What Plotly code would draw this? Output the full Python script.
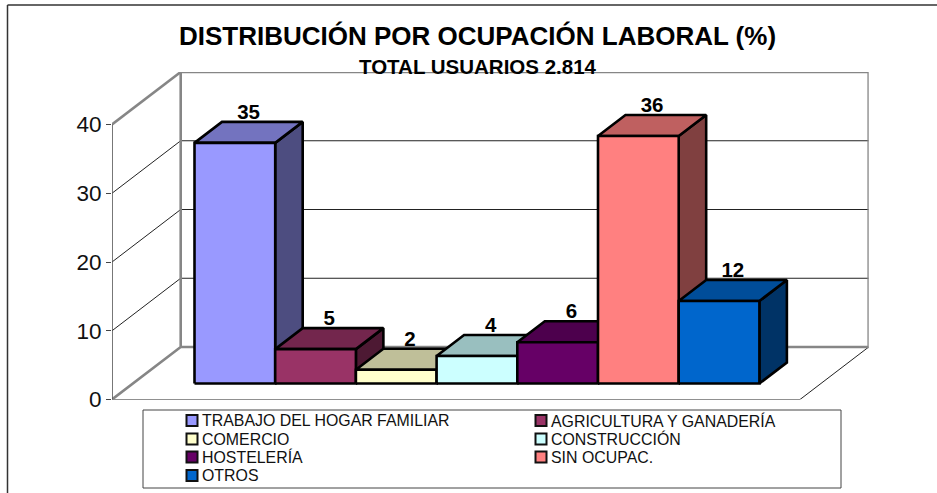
import plotly.graph_objects as go

CATEGORIES = ["TRABAJO DEL HOGAR FAMILIAR", "AGRICULTURA Y GANADERÍA", "COMERCIO",
              "CONSTRUCCIÓN", "HOSTELERÍA", "SIN OCUPAC.", "OTROS"]
VALUES = [35, 5, 2, 4, 6, 36, 12]
FRONT_COLORS = ["#9999FF", "#993366", "#FFFFCC", "#CCFFFF", "#660066", "#FF8080", "#0066CC"]
TOP_COLORS = ["#7373BF", "#73264D", "#BFBF99", "#99BFBF", "#4D004D", "#BF6060", "#004D99"]
SIDE_COLORS = ["#4D4D80", "#4D1933", "#808066", "#668080", "#330033", "#804040", "#003366"]
Y_TICKS = [0, 10, 20, 30, 40]
TITLE = "DISTRIBUCIÓN POR OCUPACIÓN LABORAL (%)"
SUBTITLE = "TOTAL USUARIOS 2.814"

W, H = 937, 493
FONT = "Liberation Sans, Arial, sans-serif"

# Oblique projection of the 3D box, in axis units
PX_PER_CAT = 80.7
PX_PER_VAL = 6.875
AXIS_LEFT, AXIS_RIGHT, AXIS_BOTTOM, AXIS_TOP = 112, 868.7, 399.5, 72
DX = 68.7 / PX_PER_CAT      # x shift of the full depth
DY = 52.5 / PX_PER_VAL      # y shift of the full depth
FLOOR_W = (AXIS_RIGHT - AXIS_LEFT) / PX_PER_CAT - DX
MARGIN = (FLOOR_W - len(VALUES)) / 2
D0, D1 = 0.305, 0.705       # bar depth span
YMAX = max(Y_TICKS)
LABEL_DROP = 0.3            # labels sit slightly closer to the bar tops


def proj(x, y, d):
    return x + d * DX, y + d * DY


def poly(points, fill, line="#000000", width=2.6):
    xs, ys = zip(*points)
    return go.Scatter(x=list(xs) + [xs[0]], y=list(ys) + [ys[0]], mode="lines", fill="toself",
                      fillcolor=fill, line=dict(color=line, width=width, shape="linear"),
                      hoverinfo="skip", showlegend=False)


def line(points, color, width):
    xs, ys = zip(*points)
    return go.Scatter(x=list(xs), y=list(ys), mode="lines", line=dict(color=color, width=width),
                      hoverinfo="skip", showlegend=False)


fig = go.Figure()
GREY = "#868686"
DARK = "#222222"
# Floor and walls
fig.add_trace(poly([proj(0, 0, 0), proj(FLOOR_W, 0, 0), proj(FLOOR_W, 0, 1), proj(0, 0, 1)], "#FFFFFF", line="rgba(0,0,0,0)", width=0))
for t in Y_TICKS[1:-1]:
    fig.add_trace(line([proj(0, t, 0), proj(0, t, 1), proj(FLOOR_W, t, 1)], DARK, 1))
fig.add_trace(line([proj(FLOOR_W, 0, 0), proj(FLOOR_W, 0, 1)], DARK, 1))
fig.add_trace(line([proj(0, 0, 0), proj(FLOOR_W, 0, 0)], DARK, 1))
fig.add_trace(line([proj(0, 0, 0), proj(0, 0, 1), proj(FLOOR_W, 0, 1), proj(FLOOR_W, YMAX, 1),
                    proj(0, YMAX, 1), proj(0, 0, 1)], GREY, 2.6))
fig.add_trace(line([proj(0, YMAX, 0), proj(0, YMAX, 1)], GREY, 2.6))
fig.add_trace(line([proj(0, 0, 0), proj(0, YMAX, 0)], "#555555", 1.6))

# Bars, painted from left to right
for i, v in enumerate(VALUES):
    x0, x1 = MARGIN + i, MARGIN + i + 1
    fig.add_trace(poly([proj(x1, 0, D0), proj(x1, 0, D1), proj(x1, v, D1), proj(x1, v, D0)], SIDE_COLORS[i]))
    fig.add_trace(poly([proj(x0, v, D0), proj(x1, v, D0), proj(x1, v, D1), proj(x0, v, D1)], TOP_COLORS[i]))
    fig.add_trace(poly([proj(x0, 0, D0), proj(x1, 0, D0), proj(x1, v, D0), proj(x0, v, D0)], FRONT_COLORS[i]))

# Data labels
lx = [proj(MARGIN + i + 0.5, v, (D0 + D1) / 2)[0] for i, v in enumerate(VALUES)]
ly = [proj(MARGIN + i + 0.5, v, D1)[1] - LABEL_DROP for i, v in enumerate(VALUES)]
fig.add_trace(go.Scatter(x=lx, y=ly, mode="text", text=[str(v) for v in VALUES], textposition="top center",
                         textfont=dict(family=FONT, size=20.5, color="#000000"),
                         texttemplate="<b>%{text}</b>", hoverinfo="skip", showlegend=False))

shapes = []
annotations = [
    dict(text=f"<b>{TITLE}</b>", x=477.5 / W, y=1 - 36 / H, font=dict(size=26, family=FONT, color="#000000")),
    dict(text=f"<b>{SUBTITLE}</b>", x=477.5 / W, y=1 - 66 / H, font=dict(size=20.5, family=FONT, color="#000000")),
]
for a in annotations:
    a.update(xref="paper", yref="paper", xanchor="center", yanchor="middle", showarrow=False)

# Outer border
shapes.append(dict(type="line", xref="paper", yref="paper", x0=7.5 / W, x1=1, y0=1 - 5 / H, y1=1 - 5 / H,
                   line=dict(color="#333333", width=1.5)))
shapes.append(dict(type="line", xref="paper", yref="paper", x0=7.5 / W, x1=7.5 / W, y0=0, y1=1 - 5 / H,
                   line=dict(color="#333333", width=1.5)))

# Legend box
shapes.append(dict(type="rect", xref="paper", yref="paper", x0=143 / W, x1=841 / W, y0=1 - 488 / H, y1=1 - 410 / H,
                   line=dict(color="#444444", width=1), fillcolor="#FFFFFF"))
ROW_Y = [420.5, 439, 457, 475.5]
COL_X = [192, 541]
for i, name in enumerate(CATEGORIES):
    cx = COL_X[i % 2]
    cy = ROW_Y[i // 2]
    shapes.append(dict(type="rect", xref="paper", yref="paper", x0=(cx - 5.5) / W, x1=(cx + 5.5) / W,
                       y0=1 - (cy + 5.5) / H, y1=1 - (cy - 5.5) / H,
                       line=dict(color="#111111", width=2), fillcolor=FRONT_COLORS[i]))
    annotations.append(dict(text=name, xref="paper", yref="paper", x=(cx + 8) / W, y=1 - cy / H,
                            xanchor="left", yanchor="middle", showarrow=False,
                            font=dict(size=15.9, family=FONT, color="#111111")))

fig.update_layout(
    width=W, height=H, margin=dict(l=0, r=0, t=0, b=0, pad=0),
    paper_bgcolor="#FFFFFF", plot_bgcolor="#FFFFFF", showlegend=False,
    shapes=shapes, annotations=annotations,
    xaxis=dict(domain=[AXIS_LEFT / W, AXIS_RIGHT / W], range=[0, FLOOR_W + DX], visible=False,
               fixedrange=True, automargin=False),
    yaxis=dict(domain=[1 - AXIS_BOTTOM / H, 1 - AXIS_TOP / H], range=[0, YMAX + DY],
               tickmode="array", tickvals=Y_TICKS, ticktext=[str(t) for t in Y_TICKS],
               ticks="outside", ticklen=5, tickcolor="#444444", tickwidth=1,
               tickfont=dict(family=FONT, size=22.5, color="#111111"),
               showgrid=False, zeroline=False, showline=False, fixedrange=True, automargin=False),
)

fig.write_html("out.html", config=dict(displayModeBar=False),
               post_script="document.body.style.margin='0';document.documentElement.style.overflow='hidden';")
